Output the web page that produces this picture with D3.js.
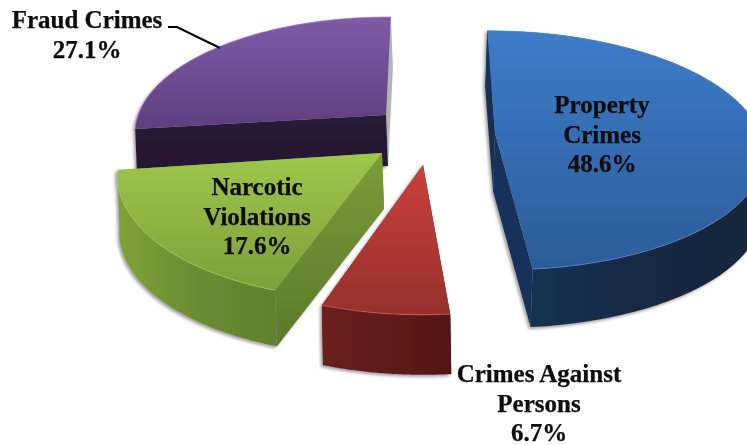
<!DOCTYPE html>
<html><head><meta charset="utf-8">
<script src="https://cdn.jsdelivr.net/npm/d3@7"></script>
<style>html,body{margin:0;padding:0;background:#fff;overflow:hidden}svg{display:block}
text{font-family:"Liberation Serif","Times New Roman",serif;font-weight:700;fill:#0a0a0a;stroke:#0a0a0a;stroke-width:.25px;font-size:25px;text-anchor:middle}</style>
</head><body><svg id="c" width="747" height="445"></svg>
<script>
// Data
const categories = ["Property Crimes","Crimes Against Persons","Narcotic Violations","Fraud Crimes"];
const shares = [48.6, 6.7, 17.6, 27.1];
const labelLines = [["Property","Crimes","48.6%"],["Crimes Against","Persons","6.7%"],["Narcotic","Violations","17.6%"],["Fraud Crimes","27.1%"]];

// Per-slice layout (exploded, perspective-tilted pie)
const apexX = [495, 423, 382, 386];
const apexY = [133, 165, 153, 115];
const radiusX = [266, 266, 259, 246];
const radiusY = [117, 128, 125, 112];
const shearX = [0.5, -8.4, -16, -13.3];
const shearY = [3, 4.8, 3.7, 4.6];
const depth = [58, 60, 56, 51];
const wallDx = [-2, 1, 2, 2];
const perspective = 0.145;
const faceTop = ["#3d7cc9","#cb403c","#9fc74a","#7f5ba8"];
const faceBottom = ["#2c5c9a","#96302c","#7d9f3a","#5e3f80"];
const rim = ["#5a90d0","#dd6a62","#aed05c","#9478b8"];
const arcWall = [["#183557","#142a46","#122539"],["#6d201d","#5f1c1a","#511614"],["#7fa137","#6c8c31","#60802d"],["#271a35","#271a35","#271a35"]];
const showArcWall = [true, true, true, false];
const sideTop = ["#16325a","#6d201d","#7d9c39","#271a35"];
const sideBottom = ["#132c4c","#5a1a18","#5b7a2b","#241830"];
const backWall = ["#16325a","#5a1a18","#7d9c39","#b4b4b4"];
const labelX = [602, 539, 257, 87];
const labelY = [113, 382, 195, 28];
const lineGap = 29.5;
const leaderX = [168, 177, 220];
const leaderY = [27, 27, 48];
const startDeg = -1.8;

const svg = d3.select("#c");
const defs = svg.append("defs");
const blur = defs.append("filter").attr("id","soft").attr("x","-5%").attr("y","-5%").attr("width","110%").attr("height","110%");
blur.append("feGaussianBlur").attr("stdDeviation",0.45);
const sh = defs.append("filter").attr("id","shadow").attr("x","-10%").attr("y","-10%").attr("width","120%").attr("height","120%");
sh.append("feDropShadow").attr("dx",-2).attr("dy",2).attr("stdDeviation",1.6).attr("flood-color","#555").attr("flood-opacity",0.55);

function grad(id, stops, horizontal){
  const g = defs.append("linearGradient").attr("id",id)
    .attr("x1",0).attr("y1",0).attr("x2",horizontal?1:0).attr("y2",horizontal?0:1);
  stops.forEach((c,i)=>g.append("stop").attr("offset",i/(stops.length-1)).attr("stop-color",c));
  return `url(#${id})`;
}

const pie = d3.pie().sort(null).value(d=>d)
  .startAngle(startDeg*Math.PI/180).endAngle((startDeg+360)*Math.PI/180);
const arcs = pie(shares);
const line = d3.line().x(d=>d[0]).y(d=>d[1]);
const root = svg.append("g").attr("filter","url(#soft)");

function project(i, th){
  const s = Math.sin(th), c = Math.cos(th), w = 1 + perspective*c;
  const ux = s/w, uy = -c/w;
  return [apexX[i] + radiusX[i]*ux + shearX[i]*uy, apexY[i] + radiusY[i]*uy + shearY[i]*ux];
}
const down = (i,p)=>[p[0]+wallDx[i], p[1]+depth[i]];

// painter's order: back slice first
[3,2,1,0].forEach(i=>{
  const a = arcs[i];
  const N = 60;
  const thetas = d3.range(N+1).map(k=>a.startAngle+(a.endAngle-a.startAngle)*k/N);
  const edge = thetas.map(t=>project(i,t));
  const apex = [apexX[i],apexY[i]];
  const g = root.append("g").attr("filter","url(#shadow)");
  const sideFill = grad("side"+i,[sideTop[i],sideBottom[i]],false);
  const arcFill = grad("arc"+i,arcWall[i],true);
  const first = edge[0], last = edge[N];
  // back radial wall, then front radial wall
  g.append("path").attr("fill",backWall[i]).attr("d",line([apex,last,down(i,last),down(i,apex)])+"Z");
  g.append("path").attr("fill",sideFill).attr("d",line([apex,first,down(i,first),down(i,apex)])+"Z");
  if (showArcWall[i]) {
    g.append("path").attr("fill",arcFill)
      .attr("d",line(edge.concat(edge.map(p=>down(i,p)).reverse()))+"Z");
  }
  const faceFill = grad("face"+i,[faceTop[i],faceBottom[i]],false);
  g.append("path").attr("fill",faceFill).attr("d",line([apex].concat(edge))+"Z");
  g.append("path").attr("fill","none").attr("stroke",rim[i]).attr("stroke-width",1)
    .attr("stroke-opacity",0.7).attr("d",line(edge));
});

root.append("path").attr("fill","none").attr("stroke","#000").attr("stroke-width",2)
  .attr("d",line(d3.zip(leaderX,leaderY)));

labelLines.forEach((lines,i)=>{
  lines.forEach((t,j)=>{
    root.append("text").attr("x",labelX[i]).attr("y",labelY[i]+j*lineGap).text(t);
  });
});
</script></body></html>
